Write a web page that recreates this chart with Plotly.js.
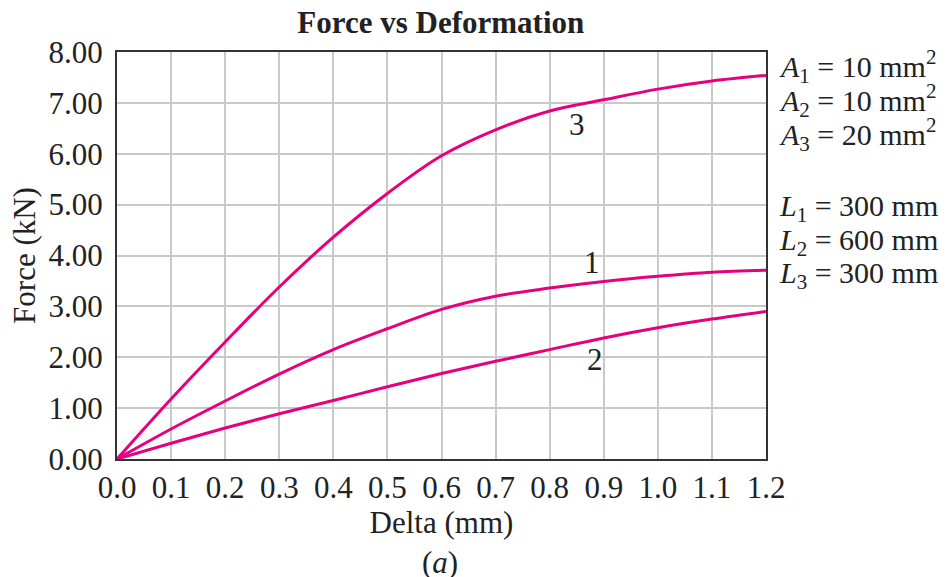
<!DOCTYPE html>
<html>
<head>
<meta charset="utf-8">
<script src="https://cdn.plot.ly/plotly-3.0.1.min.js"></script>
<style>html,body{margin:0;padding:0;background:#fff;}#chart{width:948px;height:577px;}</style>
</head>
<body>
<div id="chart"></div>
<script>
const delta = [0, 0.1, 0.2, 0.3, 0.4, 0.5, 0.6, 0.7, 0.8, 0.9, 1.0, 1.1, 1.2];
const force1 = [0, 0.59, 1.14, 1.67, 2.15, 2.56, 2.94, 3.20, 3.36, 3.49, 3.59, 3.67, 3.71];
const force2 = [0, 0.31, 0.61, 0.89, 1.15, 1.42, 1.68, 1.92, 2.15, 2.38, 2.58, 2.75, 2.90];
const force3 = [0, 1.18, 2.30, 3.38, 4.36, 5.22, 5.96, 6.47, 6.84, 7.06, 7.27, 7.43, 7.54];
const curveLabels = ["1", "2", "3"];
const labelX = [0.878, 0.883, 0.85];
const labelY = [3.86, 1.95, 6.57];
const sideText = [
  "<i>A</i><sub>1</sub> = 10 mm<sup>2</sup>",
  "<i>A</i><sub>2</sub> = 10 mm<sup>2</sup>",
  "<i>A</i><sub>3</sub> = 20 mm<sup>2</sup>",
  "<i>L</i><sub>1</sub> = 300 mm",
  "<i>L</i><sub>2</sub> = 600 mm",
  "<i>L</i><sub>3</sub> = 300 mm"
];
const sideY = [7.71, 7.04, 6.37, 4.94, 4.27, 3.62];

const color = "#e6007e";
const serif = "Liberation Serif, Times New Roman, serif";
const ink = "#222";
const mk = (y) => ({x: delta, y: y, mode: "lines", line: {color: color, width: 3, shape: "spline", smoothing: 1}, hoverinfo: "skip", showlegend: false});
const traces = [mk(force1), mk(force2), mk(force3)];

const annotations = [];
curveLabels.forEach((t, i) => annotations.push({x: labelX[i], y: labelY[i], xref: "x", yref: "y", text: t, showarrow: false, font: {family: serif, size: 31, color: ink}}));
sideText.forEach((t, i) => annotations.push({x: 1.017, y: sideY[i], xref: "paper", yref: "y", xanchor: "left", yanchor: "middle", text: t, showarrow: false, font: {family: serif, size: 30, color: ink}}));
annotations.push({x: 0.498, y: -0.254, xref: "paper", yref: "paper", xanchor: "center", yanchor: "middle", text: "(<i>a</i>)", showarrow: false, font: {family: serif, size: 31, color: ink}});

const layout = {
  width: 948, height: 577,
  margin: {l: 117, r: 182, t: 52, b: 117.5, pad: 0},
  paper_bgcolor: "#fff", plot_bgcolor: "#fff",
  font: {family: serif, size: 31, color: ink},
  title: {text: "<b>Force vs Deformation</b>", x: 0.465, xanchor: "center", y: 0.962, yanchor: "middle", font: {family: serif, size: 31, color: ink}},
  xaxis: {
    range: [0, 1.2], dtick: 0.1, tick0: 0, tickformat: ".1f",
    showgrid: true, gridcolor: "#c9c9cc", gridwidth: 2,
    showline: true, linecolor: "#333", linewidth: 2, mirror: true,
    zeroline: false, ticks: "", ticklen: 0,
    tickfont: {family: serif, size: 31, color: ink},
    title: {text: "Delta (mm)", standoff: 2, font: {family: serif, size: 31, color: ink}}
  },
  yaxis: {
    range: [0, 8], dtick: 1, tick0: 0, tickformat: ".2f",
    showgrid: true, gridcolor: "#c9c9cc", gridwidth: 2,
    showline: true, linecolor: "#333", linewidth: 2, mirror: true,
    zeroline: false, ticks: "", ticklen: 0, ticklabelstandoff: 6,
    tickfont: {family: serif, size: 31, color: ink},
    title: {text: "Force (kN)", standoff: 4, font: {family: serif, size: 31, color: ink}}
  },
  annotations: annotations
};
Plotly.newPlot("chart", traces, layout, {displayModeBar: false, staticPlot: true});
</script>
</body>
</html>
